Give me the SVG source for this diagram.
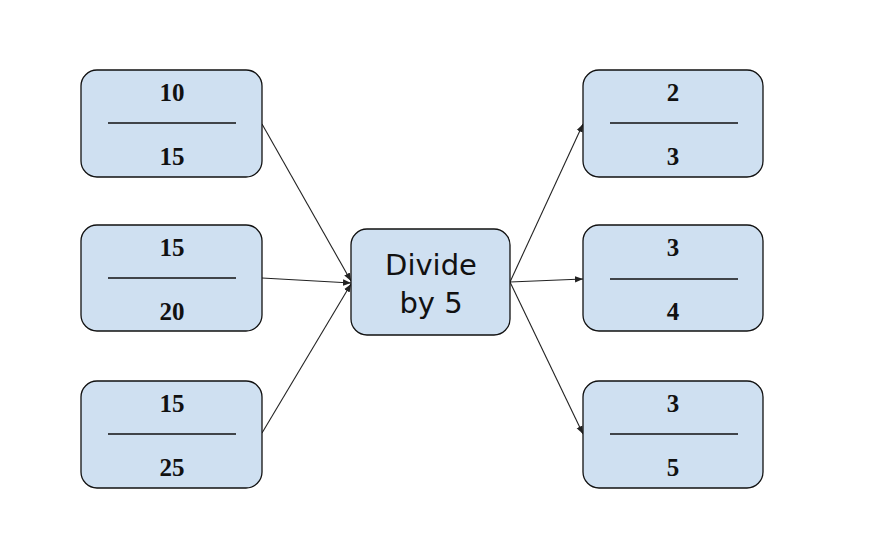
<svg xmlns="http://www.w3.org/2000/svg" width="882" height="558" viewBox="0 0 882 558">
<defs>
<style>
.box{fill:#cfe0f1;stroke:#111;stroke-width:1.3}
.num{font-family:"Liberation Serif",serif;font-weight:bold;font-size:25px;fill:#111;text-anchor:middle}
.bar{stroke:#111;stroke-width:1.4}
.conn{stroke:#222;stroke-width:1.1;fill:none;marker-end:url(#arr)}
.lbl{font-family:"DejaVu Sans",sans-serif;font-size:29px;fill:#111;text-anchor:middle}
</style>
<marker id="arr" viewBox="0 0 10 10" refX="10" refY="5" markerWidth="8" markerHeight="8" markerUnits="userSpaceOnUse" orient="auto">
<path d="M0,1 L10,5 L0,9 Z" fill="#222"/>
</marker>
</defs>
<rect width="882" height="558" fill="#ffffff"/>
<g id="connectors">
<line class="conn" x1="262" y1="124" x2="351" y2="281"/>
<line class="conn" x1="262" y1="278" x2="351" y2="283"/>
<line class="conn" x1="262" y1="433" x2="351" y2="284"/>
<line class="conn" x1="510" y1="282" x2="583" y2="124"/>
<line class="conn" x1="510" y1="282" x2="583" y2="279"/>
<line class="conn" x1="510" y1="282" x2="583" y2="434"/>
</g>
<g id="n1"><rect class="box" x="81" y="70" width="181" height="107" rx="16"/><text class="num" x="172" y="101">10</text><line class="bar" x1="108" y1="123" x2="236" y2="123"/><text class="num" x="172" y="165">15</text></g>
<g id="n2"><rect class="box" x="81" y="225" width="181" height="106" rx="16"/><text class="num" x="172" y="256">15</text><line class="bar" x1="108" y1="278" x2="236" y2="278"/><text class="num" x="172" y="320">20</text></g>
<g id="n3"><rect class="box" x="81" y="381" width="181" height="107" rx="16"/><text class="num" x="172" y="412">15</text><line class="bar" x1="108" y1="434" x2="236" y2="434"/><text class="num" x="172" y="476">25</text></g>
<g id="center"><rect class="box" x="351" y="229" width="159" height="106" rx="16"/><text class="lbl" x="431" y="275">Divide</text><text class="lbl" x="431" y="313">by 5</text></g>
<g id="r1"><rect class="box" x="583" y="70" width="180" height="107" rx="16"/><text class="num" x="673" y="101">2</text><line class="bar" x1="610" y1="123" x2="738" y2="123"/><text class="num" x="673" y="165">3</text></g>
<g id="r2"><rect class="box" x="583" y="225" width="180" height="106" rx="16"/><text class="num" x="673" y="256">3</text><line class="bar" x1="610" y1="279" x2="738" y2="279"/><text class="num" x="673" y="320">4</text></g>
<g id="r3"><rect class="box" x="583" y="381" width="180" height="107" rx="16"/><text class="num" x="673" y="412">3</text><line class="bar" x1="610" y1="434" x2="738" y2="434"/><text class="num" x="673" y="476">5</text></g>
</svg>
